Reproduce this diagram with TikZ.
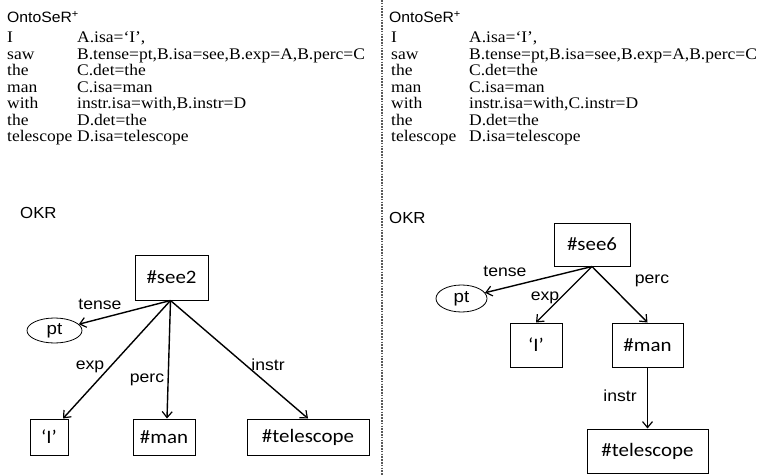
\documentclass[tikz,border=0pt]{standalone}
\usepackage{fontspec}
\setmainfont{Liberation Serif}[FakeStretch=1.08]
\newfontfamily\arial{Liberation Sans}[FakeStretch=1.1]
\newfontfamily\titlefont{Liberation Sans}[FakeStretch=1.05]
\newfontfamily\boxfont{Carlito}[FakeStretch=1.1]
\usetikzlibrary{arrows.meta,shapes.geometric,shadows,calc}

\tikzset{
  heading/.style={anchor=west,inner sep=0pt,font=\titlefont\fontsize{15}{17}\selectfont},
  okrlabel/.style={anchor=west,inner sep=0pt,font=\titlefont\fontsize{16}{18}\selectfont},
  gloss/.style={anchor=north west,inner sep=0pt,font=\fontsize{16.2}{16.5}\selectfont},
  concept/.style={draw=black,line width=1pt,fill=white,inner sep=0pt,
    font=\boxfont\fontsize{19}{21}\selectfont,
    drop shadow={shadow xshift=1.3pt,shadow yshift=-1.3pt,opacity=0.3}},
  value/.style={draw=black,line width=0.8pt,ellipse,inner sep=0pt,
    font=\arial\fontsize{17}{19}\selectfont},
  role/.style={inner sep=0pt,font=\arial\fontsize{16}{18}\selectfont},
  link/.style={line width=1.4pt,-{Straight Barb[length=6pt,width=10pt,line width=1.2pt]}},
  divider/.style={line width=1.6pt,black!65,dash pattern=on 1.6pt off 1.2pt}
}

\begin{document}
\begin{tikzpicture}[x=1pt,y=-1pt]
\useasboundingbox (0,0) rectangle (768,476);

% panel divider
\coordinate (divtop) at (382,0);
\coordinate (divbot) at (382,476);
\draw[divider] (divtop) -- (divbot);

% ---------- left panel: semantic representation ----------
\node[heading] (lhead) at (7,17) {OntoSeR\textsuperscript{+}};
\node[gloss] (ltab) at (7,31) {%
  \begin{tabular}{@{}p{70pt}@{}l@{}}
  I & A.isa=‘I’,\\
  saw & B.tense=pt,B.isa=see,B.exp=A,B.perc=C\\
  the & C.det=the\\
  man & C.isa=man\\
  with & instr.isa=with,B.instr=D\\
  the & D.det=the\\
  telescope & D.isa=telescope
  \end{tabular}};

\node[okrlabel] (lokr) at (20,213) {OKR};

\node[concept,minimum width=73pt,minimum height=45pt] (see2) at (171.5,277.5) {\#see2};
\node[value,minimum width=55pt,minimum height=25pt] (pt1) at (54.5,330.5) {pt};
\node[concept,minimum width=38pt,minimum height=36pt] (i1) at (49,437) {‘I’};
\node[concept,minimum width=62pt,minimum height=36pt] (man1) at (164,437) {\#man};
\node[concept,minimum width=122pt,minimum height=36pt] (tel1) at (308,437) {\#telescope};

\coordinate (src1) at ($(see2.south)+(-1,0)$);
\draw[link] (src1) -- (pt1);
\draw[link] (src1) -- ($(i1.north)+(14,0)$);
\draw[link] (src1) -- ($(man1.north)+(3,0)$);
\draw[link] (src1) -- (tel1.north);

\node[role] (l1tense) at (100,304) {tense};
\node[role] (l1exp) at (90,367) {exp};
\node[role] (l1perc) at (147,380) {perc};
\node[role] (l1instr) at (268,365) {instr};

% ---------- right panel: semantic representation ----------
\node[heading] (rhead) at (389,17) {OntoSeR\textsuperscript{+}};
\node[gloss] (rtab) at (391,31) {%
  \begin{tabular}{@{}p{78pt}@{}l@{}}
  I & A.isa=‘I’,\\
  saw & B.tense=pt,B.isa=see,B.exp=A,B.perc=C\\
  the & C.det=the\\
  man & C.isa=man\\
  with & instr.isa=with,C.instr=D\\
  the & D.det=the\\
  telescope & D.isa=telescope
  \end{tabular}};

\node[okrlabel] (rokr) at (389,218) {OKR};

\node[concept,minimum width=76pt,minimum height=43pt] (see6) at (592,244.5) {\#see6};
\node[value,minimum width=51pt,minimum height=27pt] (pt2) at (461.5,298.5) {pt};
\node[concept,minimum width=52pt,minimum height=44pt] (i2) at (536,345) {‘I’};
\node[concept,minimum width=71pt,minimum height=44pt] (man2) at (647.5,345) {\#man};
\node[concept,minimum width=121pt,minimum height=44pt] (tel2) at (647.5,451) {\#telescope};

\draw[link] (see6.south) -- (pt2);
\draw[link] (see6.south) -- (i2.north);
\draw[link] (see6.south) -- (man2.north);
\draw[link] (man2.south) -- (tel2.north);

\node[role] (r1tense) at (505,271) {tense};
\node[role] (r1exp) at (545,298) {exp};
\node[role] (r1perc) at (652,281) {perc};
\node[role] (r1instr) at (620,396) {instr};
\end{tikzpicture}
\end{document}
